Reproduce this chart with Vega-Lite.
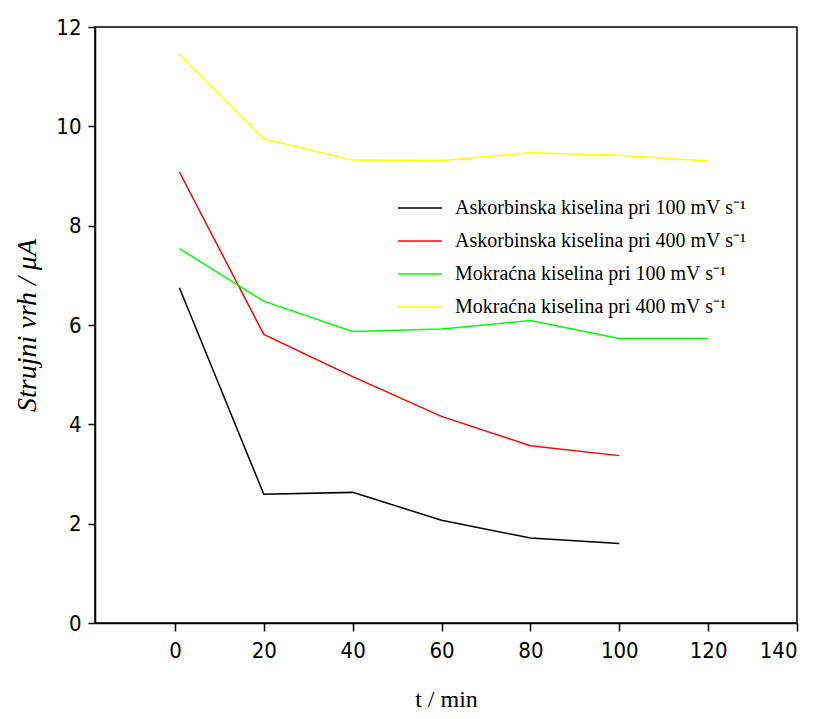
{
  "$schema": "https://vega.github.io/schema/vega-lite/v6.json",
  "width": 702,
  "height": 596,
  "autosize": "none",
  "padding": {"left": 95, "top": 27, "right": 22, "bottom": 96},
  "background": "white",
  "config": {
    "view": {"stroke": "black", "strokeWidth": 1.5},
    "axis": {
      "grid": false,
      "domainColor": "black",
      "domainWidth": 1.5,
      "tickColor": "black",
      "tickWidth": 1.5,
      "tickSize": 8,
      "labelFont": "DejaVu Sans Condensed, Liberation Sans Narrow, Arial Narrow, Liberation Sans, sans-serif",
      "labelFontSize": 22,
      "labelColor": "black",
      "titleFont": "Liberation Serif, Times New Roman, serif",
      "titleFontSize": 24,
      "titleFontWeight": "normal",
      "titleColor": "black"
    }
  },
  "data": {
    "values": [
      {"t": 1, "y": 6.75, "s": "Askorbinska kiselina pri 100 mV s⁻¹"},
      {"t": 20, "y": 2.59, "s": "Askorbinska kiselina pri 100 mV s⁻¹"},
      {"t": 40, "y": 2.63, "s": "Askorbinska kiselina pri 100 mV s⁻¹"},
      {"t": 60, "y": 2.07, "s": "Askorbinska kiselina pri 100 mV s⁻¹"},
      {"t": 80, "y": 1.71, "s": "Askorbinska kiselina pri 100 mV s⁻¹"},
      {"t": 100, "y": 1.6, "s": "Askorbinska kiselina pri 100 mV s⁻¹"},
      {"t": 1, "y": 9.08, "s": "Askorbinska kiselina pri 400 mV s⁻¹"},
      {"t": 20, "y": 5.81, "s": "Askorbinska kiselina pri 400 mV s⁻¹"},
      {"t": 40, "y": 4.96, "s": "Askorbinska kiselina pri 400 mV s⁻¹"},
      {"t": 60, "y": 4.16, "s": "Askorbinska kiselina pri 400 mV s⁻¹"},
      {"t": 80, "y": 3.57, "s": "Askorbinska kiselina pri 400 mV s⁻¹"},
      {"t": 100, "y": 3.37, "s": "Askorbinska kiselina pri 400 mV s⁻¹"},
      {"t": 1, "y": 7.54, "s": "Mokraćna kiselina pri 100 mV s⁻¹"},
      {"t": 20, "y": 6.48, "s": "Mokraćna kiselina pri 100 mV s⁻¹"},
      {"t": 40, "y": 5.87, "s": "Mokraćna kiselina pri 100 mV s⁻¹"},
      {"t": 60, "y": 5.92, "s": "Mokraćna kiselina pri 100 mV s⁻¹"},
      {"t": 80, "y": 6.09, "s": "Mokraćna kiselina pri 100 mV s⁻¹"},
      {"t": 100, "y": 5.73, "s": "Mokraćna kiselina pri 100 mV s⁻¹"},
      {"t": 120, "y": 5.73, "s": "Mokraćna kiselina pri 100 mV s⁻¹"},
      {"t": 1, "y": 11.45, "s": "Mokraćna kiselina pri 400 mV s⁻¹"},
      {"t": 20, "y": 9.75, "s": "Mokraćna kiselina pri 400 mV s⁻¹"},
      {"t": 40, "y": 9.32, "s": "Mokraćna kiselina pri 400 mV s⁻¹"},
      {"t": 60, "y": 9.31, "s": "Mokraćna kiselina pri 400 mV s⁻¹"},
      {"t": 80, "y": 9.47, "s": "Mokraćna kiselina pri 400 mV s⁻¹"},
      {"t": 100, "y": 9.42, "s": "Mokraćna kiselina pri 400 mV s⁻¹"},
      {"t": 120, "y": 9.3, "s": "Mokraćna kiselina pri 400 mV s⁻¹"}
    ]
  },
  "mark": {"type": "line", "strokeWidth": 1.5},
  "encoding": {
    "x": {
      "field": "t",
      "type": "quantitative",
      "scale": {"domain": [-18, 140], "nice": false, "zero": false},
      "axis": {
        "values": [0, 20, 40, 60, 80, 100, 120, 140],
        "title": "t / min",
        "labelPadding": 9,
        "titlePadding": 26
      }
    },
    "y": {
      "field": "y",
      "type": "quantitative",
      "scale": {"domain": [0, 12], "nice": false},
      "axis": {
        "values": [0, 2, 4, 6, 8, 10, 12],
        "title": "Strujni vrh / μA",
        "titleFontStyle": "italic",
        "titleFontSize": 28,
        "tickSize": 7,
        "labelPadding": 7,
        "titlePadding": 14
      }
    },
    "color": {
      "field": "s",
      "type": "nominal",
      "scale": {
        "domain": [
          "Askorbinska kiselina pri 100 mV s⁻¹",
          "Askorbinska kiselina pri 400 mV s⁻¹",
          "Mokraćna kiselina pri 100 mV s⁻¹",
          "Mokraćna kiselina pri 400 mV s⁻¹"
        ],
        "range": ["#000000", "#ff0000", "#00ff00", "#ffff00"]
      },
      "legend": {
        "title": null,
        "orient": "none",
        "legendX": 302,
        "legendY": 158,
        "symbolType": "stroke",
        "symbolSize": 1936,
        "symbolStrokeWidth": 1.5,
        "labelFont": "Liberation Serif, Times New Roman, serif",
        "labelFontSize": 20,
        "labelColor": "black",
        "labelOffset": 12,
        "rowPadding": -13,
        "labelLimit": 400
      }
    }
  }
}
